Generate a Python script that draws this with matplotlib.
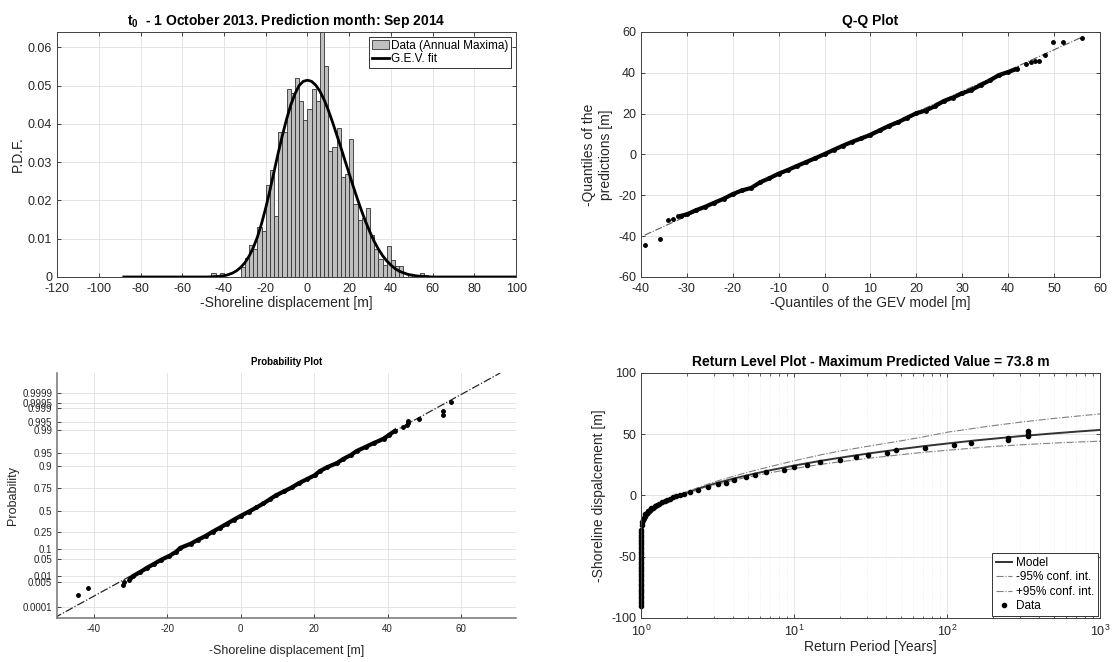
import numpy as np
import matplotlib
matplotlib.use("Agg")
import matplotlib.pyplot as plt
from matplotlib import ticker

plt.rcParams['font.family'] = ['Liberation Sans', 'DejaVu Sans']
plt.rcParams['axes.unicode_minus'] = False
plt.rcParams['mathtext.fontset'] = 'custom'
plt.rcParams['mathtext.rm'] = 'Liberation Sans'
plt.rcParams['mathtext.bf'] = 'Liberation Sans:bold'

# --- histogram of annual maxima (bin centres, bin width 2 m) ---
hist_centers = [-45, -43, -41, -39, -37, -35, -33, -31, -29, -27, -25, -23, -21, -19,
                -17, -15, -13, -11, -9, -7, -5, -3, -1, 1, 3, 5, 7, 9, 11, 13, 15, 17,
                19, 21, 23, 25, 27, 29, 31, 33, 35, 37, 39, 41, 43, 45, 47, 49, 51, 53,
                55, 57]
hist_pdf = [0.001, 0, 0.001, 0, 0, 0, 0, 0.0025, 0.005, 0.0083, 0.0072, 0.013, 0.012,
            0.024, 0.028, 0.016, 0.038, 0.038, 0.049, 0.048, 0.052, 0.046, 0.041, 0.044,
            0.049, 0.046, 0.070, 0.055, 0.033, 0.034, 0.039, 0.026, 0.027, 0.036, 0.019,
            0.015, 0.0155, 0.018, 0.011, 0.0072, 0.0046, 0.003, 0.008, 0.0045, 0.0028,
            0.0028, 0, 0.0004, 0, 0, 0.001, 0.0006]

# --- G.E.V. fit curve ---
fit_x = [-88, -48, -44, -40, -38, -36, -34, -32, -30, -28, -26, -24, -22, -20, -18, -16,
         -14, -12, -10, -8, -6, -4, -2, 0, 2, 4, 6, 8, 10, 12, 14, 16, 18, 20, 22, 24, 26,
         28, 30, 32, 34, 36, 38, 40, 42, 44, 48, 52, 56, 60, 100]
fit_pdf = [0, 0, 0.0001, 0.0003, 0.0006, 0.0010, 0.0016, 0.0025, 0.0037, 0.0054, 0.0076,
           0.0104, 0.0139, 0.0180, 0.0226, 0.0275, 0.0324, 0.0370, 0.0412, 0.0449, 0.0478,
           0.0500, 0.0511, 0.0514, 0.0511, 0.0501, 0.0485, 0.0463, 0.0436, 0.0405, 0.0372,
           0.0339, 0.0304, 0.0270, 0.0236, 0.0203, 0.0172, 0.0143, 0.0117, 0.0093, 0.0073,
           0.0056, 0.0042, 0.0031, 0.0022, 0.0015, 0.0007, 0.0003, 0.0001, 0, 0]

# --- quantile pairs (GEV model quantile, predicted quantile) ---
qq_model = [-39.2, -35.9, -34.2, -33.0, -32.0, -31.2, -30, -28, -26, -24, -22, -20, -18,
            -16, -14, -12, -10, -8, -6, -4, -2, 0, 2, 4, 6, 8, 10, 12, 14, 16, 18, 20, 22,
            24, 26, 28, 30, 32, 34, 36, 38, 40, 42, 43.9, 45.0, 45.8, 46.8, 48.1, 49.7,
            52.0, 56.1]
qq_pred = [-44.3, -41.5, -32.0, -31.7, -30.3, -30.0, -29.3, -27.3, -25.6, -23.6, -21.7,
           -19.4, -17.6, -16.4, -13.6, -11.6, -9.4, -7.6, -5.6, -3.7, -1.8, 0.2, 2.3, 4.3,
           6.2, 7.9, 9.6, 11.8, 14.0, 15.8, 18.0, 20.2, 21.5, 23.6, 26.2, 27.9, 30.0, 31.6,
           34.0, 36.3, 38.9, 40.4, 42.0, 44.1, 45.3, 45.6, 45.6, 48.5, 55.1, 55.1, 57.2]
qq_ref_x = [-39.2, 56.1]
qq_ref_y = [-39.5, 57.5]

# --- probability plot axis (fitted GEV: location, scale, shape) ---
gev_mu, gev_sigma, gev_k = -3.0, 15.1, -0.2
prob_ticks = [0.0001, 0.005, 0.01, 0.05, 0.1, 0.25, 0.5, 0.75, 0.9, 0.95, 0.99, 0.995,
              0.999, 0.9995, 0.9999]
prob_labels = ['0.0001', '0.005', '0.01', '0.05', '0.1', '0.25', '0.5', '0.75', '0.9',
               '0.95', '0.99', '0.995', '0.999', '0.9995', '0.9999']
prob_ref = [-50.8, 70.7]

# --- return level plot ---
rl_T = [1.0000001, 1.00001, 1.001, 1.01, 1.05, 1.1, 1.2, 1.35, 1.5, 1.75, 2, 2.5, 3, 4,
        5, 7, 10, 15, 20, 30, 50, 70, 100, 150, 200, 300, 500, 700, 1000]
rl_model = [-59.1, -50.6, -38.6, -30.0, -21.8, -17.4, -12.3, -7.7, -4.4, -0.5, 2.4, 6.5,
            9.5, 13.7, 16.6, 20.6, 24.4, 28.3, 30.8, 34.1, 37.9, 40.2, 42.4, 44.8, 46.3,
            48.4, 50.7, 52.1, 53.5]
rl_lower = [-59.1, -50.6, -38.6, -30.0, -21.8, -17.4, -12.3, -7.8, -4.6, -0.9, 1.8, 5.6,
            8.4, 12.3, 15.0, 18.6, 22.0, 25.4, 27.5, 30.2, 33.3, 35.2, 36.9, 38.7, 40.0,
            41.3, 42.8, 43.6, 44.3]
rl_upper = [-59.1, -50.6, -38.6, -30.0, -21.8, -17.3, -12.2, -7.5, -4.1, 0.0, 3.1, 7.6,
            11.0, 15.6, 19.0, 23.6, 28.3, 33.2, 36.3, 40.0, 44.6, 47.8, 51.6, 54.8, 57.0,
            59.8, 62.9, 64.7, 66.6]
rl_data_T = [1.0, 1.0, 1.0, 1.0, 1.0, 1.0, 1.0, 1.0, 1.0, 1.0, 1.0, 1.0, 1.0, 1.0, 1.0,
             1.0, 1.0, 1.0, 1.0, 1.0, 1.0, 1.0, 1.0, 1.0, 1.001, 1.002, 1.003, 1.004,
             1.005, 1.006, 1.007, 1.008, 1.01, 1.02, 1.03, 1.04, 1.055, 1.07, 1.09, 1.11,
             1.14, 1.17, 1.2, 1.23, 1.27, 1.32, 1.38, 1.43, 1.49, 1.55, 1.62, 1.7, 1.8,
             1.9, 2.09, 2.35, 2.73, 3.2, 3.57, 4.07, 4.83, 5.6, 6.6, 8.56, 10.05, 12.1,
             14.7, 19.9, 25.4, 30.5, 40.3, 46.4, 71.7, 111, 143, 252, 252, 337, 337, 337]
rl_data_val = [-90, -88, -86, -84, -82, -80, -78, -76, -74, -72, -70, -68, -66, -64, -62,
               -60, -58, -56, -54, -52, -50, -48, -46, -44, -42, -40, -38, -36, -34, -32,
               -30, -28, -24, -22, -19.7, -18, -16.5, -15, -14, -13, -12, -10.5, -10, -9,
               -8, -7, -5.6, -4.5, -3.4, -2.5, -1.5, -0.5, 0.7, 1.6, 2.9, 4.8, 6.7, 9.1,
               10.5, 12.7, 14.8, 17.0, 18.9, 21.1, 23.0, 24.9, 27.1, 29.3, 31.2, 33.1, 34.7,
               37.4, 39.0, 41.0, 42.9, 45.2, 46.8, 48.8, 50.5, 52.4]


def gev_quantile(p):
    p = np.asarray(p, dtype=float)
    return gev_mu + gev_sigma * ((-np.log(p)) ** (-gev_k) - 1) / gev_k


def matlab_style(ax, box=True):
    ax.tick_params(direction='in', top=box, right=box, labelsize=9, length=3,
                   width=0.6, colors='0.15')
    ax.tick_params(axis='x', pad=4)
    for s in ax.spines.values():
        s.set_color('0.25')
        s.set_linewidth(0.7)
    ax.grid(True, color='0.88', lw=0.6)
    ax.set_axisbelow(True)


fig = plt.figure(figsize=(11.12, 6.62), dpi=100)
ax1 = fig.add_axes([0.0513, 0.5816, 0.4128, 0.3701])
ax2 = fig.add_axes([0.5764, 0.5816, 0.4128, 0.3701])
ax3 = fig.add_axes([0.0513, 0.0665, 0.4128, 0.3701])
ax4 = fig.add_axes([0.5764, 0.0665, 0.4128, 0.3701])

# panel 1: histogram + GEV fit
matlab_style(ax1)
bars = ax1.bar(hist_centers, hist_pdf, width=2, color='0.75', edgecolor='0.2',
               linewidth=0.6, label='Data (Annual Maxima)')
fit_line, = ax1.plot(fit_x, fit_pdf, color='k', lw=2, label='G.E.V. fit')
ax1.set_xlim(-120, 100)
ax1.set_ylim(0, 0.064)
ax1.set_xticks(np.arange(-120, 101, 20))
ax1.set_yticks([0, 0.01, 0.02, 0.03, 0.04, 0.05, 0.06])
ax1.yaxis.set_major_formatter(ticker.FormatStrFormatter('%g'))
ax1.set_xlabel('-Shoreline displacement [m]', fontsize=10, color='0.15', labelpad=1)
ax1.set_ylabel('P.D.F.', fontsize=10, color='0.15', labelpad=2)
ax1.set_title(r'$\mathbf{t_0}$  - 1 October 2013. Prediction month: Sep 2014',
              fontsize=10, fontweight='bold', pad=5)
leg = ax1.legend([bars, fit_line], ['Data (Annual Maxima)', 'G.E.V. fit'],
                 loc='upper right', fontsize=8.5, fancybox=False, edgecolor='0.2',
                 framealpha=1, handlelength=1.4, handletextpad=0.2, borderpad=0.25,
                 labelspacing=0.15, borderaxespad=0.4)
leg.get_frame().set_linewidth(0.7)

# panel 2: Q-Q plot
matlab_style(ax2)
qm = np.array(qq_model)
qp = np.array(qq_pred)
dense = (qm > -31.5) & (qm < 43)
ax2.plot(qq_ref_x, qq_ref_y, '-.', color='0.35', lw=0.8)
ax2.plot(qm[dense], qp[dense], color='k', lw=3)
ax2.plot(qm, qp, 'o', color='k', ms=2.5)
ax2.set_xlim(-40, 60)
ax2.set_ylim(-60, 60)
ax2.set_xticks(np.arange(-40, 61, 10))
ax2.set_yticks(np.arange(-60, 61, 20))
ax2.set_xlabel('-Quantiles of the GEV model [m]', fontsize=10, color='0.15', labelpad=1)
ax2.set_ylabel('-Quantiles of the\npredictions [m]', fontsize=10, color='0.15')
ax2.set_title('Q-Q Plot', fontsize=10, fontweight='bold', pad=5)

# panel 3: probability plot
matlab_style(ax3, box=False)
ax3.tick_params(labelsize=7)
ax3.spines['top'].set_visible(False)
ax3.spines['right'].set_visible(False)
for s in ('left', 'bottom'):
    ax3.spines[s].set_color('0.45')
    ax3.spines[s].set_linewidth(1.1)
ax3.plot(prob_ref, prob_ref, '-.', color='0.15', lw=0.9)
ax3.plot(qp[dense], qm[dense], color='k', lw=3)
ax3.plot(qp, qm, 'o', color='k', ms=2.5)
ax3.set_xlim(-50, 75)
ax3.set_ylim(-50.8, 70.7)
ax3.set_xticks(np.arange(-40, 61, 20))
ax3.set_yticks(gev_quantile(prob_ticks))
ax3.set_yticklabels(prob_labels)
ax3.set_xlabel('-Shoreline displacement [m]', fontsize=9, color='0.15', labelpad=8)
ax3.set_ylabel('Probability', fontsize=9, color='0.15', labelpad=2)
ax3.set_title('Probability Plot', fontsize=7, fontweight='bold', pad=6)

# panel 4: return level plot
matlab_style(ax4)
ax4.set_xscale('log')
ax4.plot(rl_T, rl_model, color='0.2', lw=1.4, label='Model')
ax4.plot(rl_T, rl_lower, '-.', color='0.5', lw=0.8, label='-95% conf. int.')
ax4.plot(rl_T, rl_upper, '-.', color='0.5', lw=0.8, label='+95% conf. int.')
ax4.plot(rl_data_T, rl_data_val, 'o', color='k', ms=3, label='Data', clip_on=False)
ax4.set_xlim(1, 1000)
ax4.set_ylim(-100, 100)
ax4.set_yticks([-100, -50, 0, 50, 100])
ax4.grid(True, which='minor', axis='x', color='0.9', lw=0.5, ls=':')
ax4.tick_params(which='minor', direction='in', top=True, length=1.8, width=0.5,
                colors='0.15')
ax4.set_xlabel('Return Period [Years]', fontsize=10, color='0.15', labelpad=1)
ax4.set_ylabel('-Shoreline dispalcement [m]', fontsize=10, color='0.15')
ax4.set_title('Return Level Plot - Maximum Predicted Value = 73.8 m', fontsize=10,
              fontweight='bold', pad=5)
leg4 = ax4.legend(loc='lower right', fontsize=8.5, fancybox=False, edgecolor='0.2',
                  framealpha=1, handlelength=1.4, handletextpad=0.3, borderpad=0.3,
                  labelspacing=0.2, borderaxespad=0.2)
leg4.get_frame().set_linewidth(0.7)

fig.savefig('out.png', dpi=100)
